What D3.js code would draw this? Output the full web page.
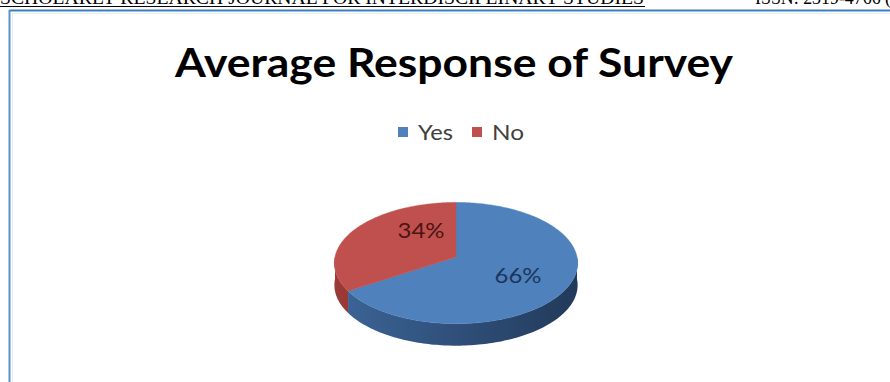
<!DOCTYPE html>
<html>
<head>
<meta charset="utf-8">
<script src="https://cdn.jsdelivr.net/npm/d3@7"></script>
<style>
  html, body { margin: 0; padding: 0; background: #fff; }
  svg { display: block; }
</style>
</head>
<body>
<svg id="chart" width="890" height="382"></svg>
<script>
// Survey answers
const categories = ["Yes", "No"];
const values = [66, 34];
const labels = ["66%", "34%"];
const topColors = ["#4f81bd", "#c0504d"];
const sideColors = [["#3c6598", "#223a5a"], ["#9a3a37", "#7a2a28"]];
const labelColors = ["#1c365c", "#4a1414"];

const W = 890, H = 382;
const FONT = "Lato, Carlito, Calibri, sans-serif";
const svg = d3.select("#chart");

// Page header strip (running head of the journal page, partly off the top)
svg.append("text")
  .attr("x", 0).attr("y", 4)
  .attr("font-family", "Liberation Serif, serif")
  .attr("font-size", 18)
  .attr("textLength", 644).attr("lengthAdjust", "spacingAndGlyphs")
  .attr("fill", "#000")
  .text("SCHOLARLY RESEARCH JOURNAL FOR INTERDISCIPLINARY STUDIES");
svg.append("line").attr("x1", 0).attr("x2", 645).attr("y1", 6.5).attr("y2", 6.5)
  .attr("stroke", "#000").attr("stroke-width", 1.2);
svg.append("text")
  .attr("x", 755).attr("y", 4)
  .attr("font-family", "Liberation Serif, serif")
  .attr("font-size", 18)
  .attr("textLength", 136).attr("lengthAdjust", "spacingAndGlyphs")
  .attr("fill", "#000")
  .text("ISSN: 2319-4766 (");

// Chart frame
svg.append("line").attr("x1", 9).attr("x2", W).attr("y1", 10.5).attr("y2", 10.5)
  .attr("stroke", "#3d7cc0").attr("stroke-width", 2);
svg.append("line").attr("x1", 9.5).attr("x2", 9.5).attr("y1", 10).attr("y2", H)
  .attr("stroke", "#5b8fc8").attr("stroke-width", 2);
svg.append("line").attr("x1", 12).attr("x2", W).attr("y1", 13.5).attr("y2", 13.5)
  .attr("stroke", "#e4eef8").attr("stroke-width", 1);
svg.append("line").attr("x1", 12.5).attr("x2", 12.5).attr("y1", 13).attr("y2", H)
  .attr("stroke", "#e4eef8").attr("stroke-width", 1);

// Title
svg.append("text")
  .attr("x", 175).attr("y", 77)
  .attr("font-family", FONT)
  .attr("font-weight", "bold")
  .attr("font-size", 41)
  .attr("textLength", 558).attr("lengthAdjust", "spacingAndGlyphs")
  .attr("fill", "#000")
  .text("Average Response of Survey");

// Legend
const legend = svg.append("g").attr("font-family", FONT)
  .attr("font-size", 21).attr("fill", "#404040");
const legendX = [398, 472];
const legendW = [35, 32];
categories.forEach((c, i) => {
  legend.append("rect").attr("x", legendX[i]).attr("y", 127).attr("width", 10).attr("height", 10)
    .attr("fill", topColors[i]);
  legend.append("text").attr("x", legendX[i] + 20).attr("y", 140)
    .attr("textLength", legendW[i]).attr("lengthAdjust", "spacingAndGlyphs")
    .text(c);
});

// 3D pie projection
const cx = 456, cy = 257, rx = 121, ry = 60, persp = 0.1, depth = 22;
function proj(theta, r = 1) {
  const u = r * Math.sin(theta), v = r * Math.cos(theta);
  const s = 1 / (1 + persp * v);
  return [cx + rx * u * s, cy - ry * v * s];
}
function arcPoints(a0, a1, dy = 0) {
  const n = Math.max(2, Math.ceil(Math.abs(a1 - a0) / 0.02));
  const pts = [];
  for (let k = 0; k <= n; k++) {
    const p = proj(a0 + (a1 - a0) * k / n);
    pts.push([p[0], p[1] + dy]);
  }
  return pts;
}
const line = d3.line();

const pie = d3.pie().sort(null).value(d => d);
const arcs = pie(values);

const defs = svg.append("defs");
arcs.forEach((a, i) => {
  const g = defs.append("linearGradient").attr("id", "side" + i)
    .attr("gradientUnits", "userSpaceOnUse")
    .attr("x1", cx - rx).attr("x2", cx + rx).attr("y1", 0).attr("y2", 0);
  g.append("stop").attr("offset", "0").attr("stop-color", sideColors[i][0]);
  g.append("stop").attr("offset", "1").attr("stop-color", sideColors[i][1]);
});

// Side walls: only the front half (angles between PI/2 and 3PI/2) is visible
const front0 = Math.PI / 2, front1 = 3 * Math.PI / 2;
arcs.forEach((a, i) => {
  const s0 = Math.max(a.startAngle, front0), s1 = Math.min(a.endAngle, front1);
  if (s1 <= s0) return;
  const topEdge = arcPoints(s0, s1);
  const bottomEdge = arcPoints(s1, s0, depth);
  svg.append("path")
    .attr("d", line(topEdge.concat(bottomEdge)) + "Z")
    .attr("fill", `url(#side${i})`);
});

// Top faces
arcs.forEach((a, i) => {
  const pts = [proj(0, 0)].concat(arcPoints(a.startAngle, a.endAngle));
  svg.append("path")
    .attr("d", line(pts) + "Z")
    .attr("fill", topColors[i])
    .attr("stroke", topColors[i]).attr("stroke-width", 0.5);
});

// Data labels
const labelPos = [[518, 283], [421, 238]];
arcs.forEach((a, i) => {
  svg.append("text")
    .attr("x", labelPos[i][0]).attr("y", labelPos[i][1])
    .attr("text-anchor", "middle")
    .attr("font-family", FONT)
    .attr("font-size", 21)
    .attr("textLength", 47).attr("lengthAdjust", "spacingAndGlyphs")
    .attr("fill", labelColors[i])
    .text(labels[i]);
});
</script>
</body>
</html>
